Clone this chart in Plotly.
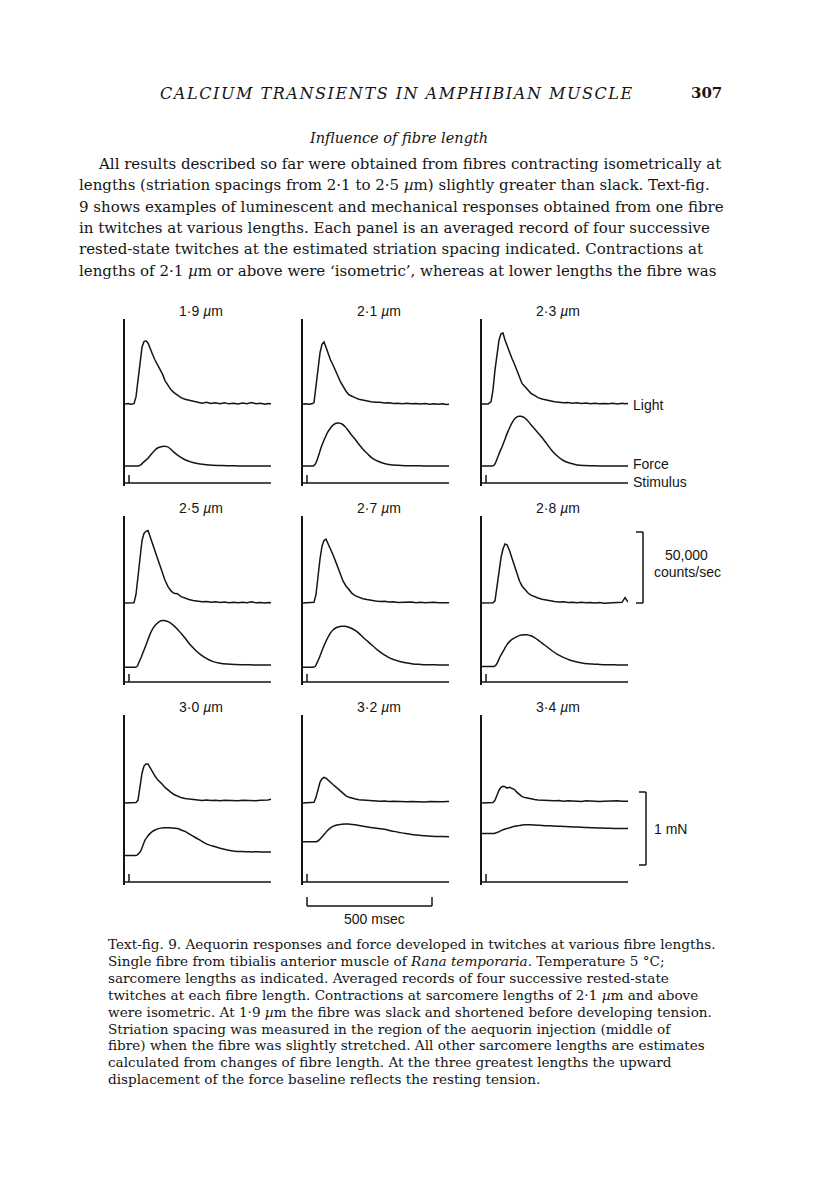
import plotly.graph_objects as go

W, H = 816, 1183

# sarcomere lengths (um), one panel each, row by row
LENGTHS = ["1·9", "2·1", "2·3", "2·5", "2·7", "2·8", "3·0", "3·2", "3·4"]

# time grid of the light records (msec after start of sweep)
T_LIGHT = [0, 12, 24, 36, 44, 52, 60, 68, 76, 84, 92, 100, 110, 120, 130, 140, 150, 160, 172, 184,
           196, 210, 224, 240, 256, 272, 290, 308, 326, 344, 362, 380, 398, 416, 434, 452, 470, 488,
           506, 524, 542, 560, 572, 584]

# aequorin light (thousand counts/sec above resting glow)
LIGHT_19 = [0, 0.3, -0.2, 0.2, 5, 18, 31, 40, 44, 44.5, 43, 39, 35, 31, 28, 25, 21, 16.5, 13, 10,
            8, 6, 4.5, 3.3, 2.6, 1.8, 1.5, 0.6, 1.2, 0.3, 0.9, 0.2, 0.8, 0.1, 0.6, 0, 0.7, 0.2,
            1.1, 0.2, 0.5, -0.1, 0.4, 0.2]
LIGHT_21 = [0, 0.2, -0.2, 0.1, 1, 12, 26, 36, 42, 43.7, 40, 35.5, 31, 27.5, 24, 19.5, 15.5, 12.5, 9, 6.5,
            5.3, 4.3, 3.4, 2.7, 2.2, 1.6, 1.2, 1.3, 0.7, 0.9, 0.4, 0.6, 0.2, 0.5, 0.1, 0.4, 0, 0.3,
            -0.1, 0.2, -0.2, 0.1, -0.3, -0.2]
LIGHT_23 = [0, 0.2, 0, 1.5, 10, 24, 36, 45, 49.5, 50, 45, 41, 37, 32, 28, 24, 19, 14.5, 12, 9.5,
            7.5, 6, 4.5, 3.5, 2.8, 2, 1.6, 1.3, 0.8, 1, 0.5, 0.9, 0.4, 0.7, 0.2, 0.6, 0.1, 0.4,
            0.2, 0.6, 0, 0.5, 0.1, 0.3]
LIGHT_25 = [0, 0.2, -0.1, 0.2, 6, 20, 34, 44, 49, 50.5, 51, 47, 42, 37, 31, 25.5, 20.5, 16, 11.5, 8.5,
            6.8, 6.5, 4.5, 3.3, 2.5, 1.8, 1.4, 0.9, 1.1, 0.5, 0.8, 0.3, 0.7, 0.2, 0.6, 0.1, 0.5, 0.2,
            0.8, 0.1, 0.4, 0, 0.3, 0.2]
LIGHT_27 = [0, 0.2, -0.1, 0.1, 0.5, 6, 19, 31, 40, 44, 45, 42, 38, 34, 29.5, 24.5, 19.5, 15.5, 12, 9,
            6.8, 5, 3.8, 3, 2.4, 1.8, 1.4, 1, 1.2, 0.7, 0.9, 0.4, 0.6, 0.3, 0.7, 0.2, 0.5, 0.1,
            0.4, 0.6, 0.2, 0.4, 0.1, 0.2]
LIGHT_28 = [0, 0.1, -0.1, 0.1, 0.2, 1.5, 11, 23, 32, 38, 41.5, 41, 37, 31.5, 26, 21, 15.5, 12, 9.5, 7,
            5.5, 4.3, 3.5, 2.6, 2, 1.4, 1.1, 0.7, 0.9, 0.4, 0.6, 0.2, 0.5, 0.1, 0.4, 0, 0.3, -0.1,
            0.2, 0, 0.3, 0.5, 3.8, 0.6]
LIGHT_30 = [0, 0.1, -0.1, 0.1, 0.3, 2, 12, 21, 26, 27.5, 27.5, 25, 21.5, 19, 16.5, 15, 13, 11, 9, 7.5,
            6, 4.8, 3.8, 3.2, 2.8, 2.4, 2.2, 1.8, 2.1, 1.7, 2, 1.6, 2, 1.7, 1.9, 1.6, 2, 1.7,
            1.9, 1.6, 2, 1.8, 2.2, 2.6]
LIGHT_32 = [0, 0.1, -0.1, 0.1, 0.5, 4, 10, 14.5, 17, 18, 17.5, 16, 14.5, 13, 11.5, 10, 8, 6.5, 5, 4,
            3.3, 2.8, 2.3, 2, 1.8, 1.5, 1.4, 1.2, 1.4, 1, 1.2, 0.9, 1.1, 0.8, 1.1, 0.8, 1, 0.7,
            1, 0.8, 1.1, 0.8, 1, 1]
LIGHT_34 = [0, 0.1, -0.1, 0.1, 0.3, 2, 5.5, 9, 11, 11.8, 11.5, 10.5, 11, 10.5, 9.5, 7.5, 6, 4.5, 3.8, 3.3,
            2.8, 2.4, 2.2, 1.9, 2, 1.6, 1.5, 1.7, 1.3, 1.5, 1.2, 1.4, 1.1, 1.5, 1.2, 1.4, 1.1, 1.3,
            1.5, 1.2, 1.6, 1.3, 1.2, 1.2]
LIGHT = [LIGHT_19, LIGHT_21, LIGHT_23, LIGHT_25, LIGHT_27, LIGHT_28, LIGHT_30, LIGHT_32, LIGHT_34]

# time grid of the force records (msec)
T_FORCE = [0, 20, 32, 40, 48, 56, 64, 72, 80, 90, 100, 110, 120, 132, 144, 156, 168, 180, 195, 210,
           225, 240, 260, 280, 300, 325, 350, 380, 410, 440, 470, 500, 530, 560, 584]

# force (mN), including resting tension
FORCE_19 = [0, 0, 0, 0, 0, 0.003, 0.02, 0.045, 0.07, 0.1, 0.14, 0.18, 0.22, 0.25, 0.265, 0.27, 0.265,
            0.24, 0.19, 0.15, 0.115, 0.085, 0.06, 0.04, 0.027, 0.017, 0.01, 0.006, 0.003, 0.002,
            0.001, 0, 0, 0, 0]
FORCE_21 = [0, 0, 0, 0, 0.02, 0.08, 0.16, 0.25, 0.32, 0.4, 0.47, 0.52, 0.56, 0.585, 0.59, 0.575, 0.54,
            0.49, 0.42, 0.36, 0.29, 0.23, 0.16, 0.1, 0.065, 0.035, 0.018, 0.01, 0.005, 0.003, 0.002,
            0, 0, 0, 0]
FORCE_23 = [0, 0, 0, 0, 0.01, 0.06, 0.13, 0.2, 0.26, 0.35, 0.44, 0.52, 0.59, 0.65, 0.68, 0.68, 0.665,
            0.63, 0.57, 0.51, 0.45, 0.39, 0.3, 0.21, 0.14, 0.075, 0.04, 0.015, 0.006, 0.003, 0, 0,
            0, 0, 0]
FORCE_25 = [-0.03, -0.03, -0.03, -0.03, -0.02, 0.04, 0.1, 0.17, 0.24, 0.33, 0.42, 0.49, 0.54, 0.58,
            0.605, 0.61, 0.6, 0.58, 0.54, 0.49, 0.43, 0.37, 0.28, 0.21, 0.15, 0.09, 0.05, 0.025,
            0.013, 0.007, 0.004, 0.002, 0, 0, 0]
FORCE_27 = [-0.03, -0.03, -0.03, -0.03, -0.02, 0.03, 0.09, 0.16, 0.23, 0.31, 0.38, 0.44, 0.48, 0.51,
            0.525, 0.53, 0.53, 0.52, 0.5, 0.47, 0.43, 0.38, 0.32, 0.26, 0.2, 0.14, 0.09, 0.055, 0.03,
            0.015, 0.008, 0.004, 0.002, 0, 0]
FORCE_28 = [-0.02, -0.02, -0.02, -0.02, -0.02, 0, 0.05, 0.11, 0.16, 0.22, 0.28, 0.32, 0.35, 0.375,
            0.395, 0.41, 0.415, 0.415, 0.4, 0.375, 0.34, 0.3, 0.25, 0.195, 0.15, 0.105, 0.068, 0.04,
            0.022, 0.013, 0.008, 0.004, 0.002, 0, 0]
FORCE_30 = [0.13, 0.13, 0.13, 0.13, 0.135, 0.16, 0.2, 0.27, 0.34, 0.39, 0.43, 0.46, 0.48, 0.495, 0.505,
            0.51, 0.51, 0.51, 0.505, 0.5, 0.48, 0.46, 0.42, 0.38, 0.34, 0.29, 0.26, 0.23, 0.205, 0.19,
            0.185, 0.18, 0.18, 0.178, 0.178]
FORCE_32 = [0.32, 0.32, 0.32, 0.32, 0.32, 0.322, 0.34, 0.37, 0.4, 0.44, 0.48, 0.51, 0.53, 0.545, 0.553,
            0.558, 0.56, 0.56, 0.555, 0.55, 0.54, 0.53, 0.52, 0.51, 0.5, 0.49, 0.47, 0.45, 0.43,
            0.415, 0.405, 0.397, 0.392, 0.39, 0.388]
FORCE_34 = [0.43, 0.43, 0.43, 0.43, 0.432, 0.44, 0.45, 0.465, 0.478, 0.49, 0.5, 0.51, 0.52, 0.53, 0.538,
            0.545, 0.55, 0.55, 0.55, 0.548, 0.545, 0.542, 0.538, 0.535, 0.532, 0.528, 0.524, 0.52,
            0.515, 0.51, 0.506, 0.503, 0.5, 0.5, 0.5]
FORCE = [FORCE_19, FORCE_21, FORCE_23, FORCE_25, FORCE_27, FORCE_28, FORCE_30, FORCE_32, FORCE_34]

# stimulus marker
STIM_T = [0, 16, 16, 16, 584]
STIM_V = [0, 0, 1, 0, 0]

# page layout (pixels)
COL_X = [117, 295, 474]
PANEL_W = 146
T_MAX = 584
ROW_TOP = [311, 508, 707]
ROW_STIM = [475, 674, 874]
PX_MN = 73.0          # 1 mN
PX_KC = 71.0 / 50     # 1000 counts/sec
F0 = 17               # force zero above stimulus line
L0 = 79               # light baseline above stimulus line
PAD = 3
INK = "#151515"

fig = go.Figure()

for k in range(9):
    r, c = divmod(k, 3)
    ax = "" if k == 0 else str(k + 1)
    x0 = COL_X[c]
    top, stim = ROW_TOP[r], ROW_STIM[r]
    fig.add_trace(go.Scatter(x=T_LIGHT, y=[(L0 - F0 + v * PX_KC) / PX_MN for v in LIGHT[k]],
                             xaxis="x" + ax, yaxis="y" + ax, mode="lines",
                             line=dict(color=INK, width=1.5), showlegend=False))
    fig.add_trace(go.Scatter(x=T_FORCE, y=FORCE[k], xaxis="x" + ax, yaxis="y" + ax, mode="lines",
                             line=dict(color=INK, width=1.5, shape="spline"), showlegend=False))
    fig.add_trace(go.Scatter(x=STIM_T, y=[(-F0 + v * 8) / PX_MN for v in STIM_V],
                             xaxis="x" + ax, yaxis="y" + ax, mode="lines",
                             line=dict(color=INK, width=1.5), showlegend=False))
    fig.layout["xaxis" + ax] = dict(domain=[x0 / W, (x0 + PANEL_W) / W], range=[0, T_MAX],
                                    visible=False, anchor="y" + ax)
    fig.layout["yaxis" + ax] = dict(domain=[1 - (stim + PAD) / H, 1 - top / H],
                                    range=[-(F0 + PAD) / PX_MN, (stim - top - F0) / PX_MN],
                                    showline=True, linecolor=INK, linewidth=1.5, showticklabels=False,
                                    ticks="", showgrid=False, zeroline=False, anchor="x" + ax)

ann = []


def txt(s, x, y, size, family, anchor="left", color=INK):
    ann.append(dict(text=s, x=x / W, y=1 - y / H, xref="paper", yref="paper", xanchor=anchor,
                    yanchor="middle", showarrow=False, font=dict(size=size, family=family, color=color)))


SANS = "Liberation Sans, Arial, sans-serif"
SERIF = "DejaVu Serif, serif"

# panel titles
for k in range(9):
    r, c = divmod(k, 3)
    txt(LENGTHS[k] + " <i>µ</i>m", COL_X[c] + 76, ROW_TOP[r] - 8, 14, SANS, "center")

txt("Light", 623, 397, 14, SANS)
txt("Force", 623, 456, 14, SANS)
txt("Stimulus", 623, 474, 14, SANS)
txt("50,000", 678, 547, 14, SANS, "center")
txt("counts/sec", 679, 564, 14, SANS, "center")
txt("1 mN", 662, 821, 14, SANS, "center")
txt("500 msec", 366, 911, 14, SANS, "center")

# scale bars
shapes = []
lb = (L0 - F0) / PX_MN
lt = lb + 50 * PX_KC / PX_MN
for y in (lb, lt):
    shapes.append(dict(type="line", xref="paper", yref="y6", x0=628 / W, x1=635 / W, y0=y, y1=y,
                       line=dict(color=INK, width=1.5)))
shapes.append(dict(type="line", xref="paper", yref="y6", x0=635 / W, x1=635 / W, y0=lb, y1=lt,
                   line=dict(color=INK, width=1.5)))
for y in (0, 1):
    shapes.append(dict(type="line", xref="paper", yref="y9", x0=631 / W, x1=638 / W, y0=y, y1=y,
                       line=dict(color=INK, width=1.5)))
shapes.append(dict(type="line", xref="paper", yref="y9", x0=638 / W, x1=638 / W, y0=0, y1=1,
                   line=dict(color=INK, width=1.5)))
shapes.append(dict(type="line", xref="x8", yref="paper", x0=16, x1=516, y0=1 - 898 / H, y1=1 - 898 / H,
                   line=dict(color=INK, width=1.5)))
for t in (16, 516):
    shapes.append(dict(type="line", xref="x8", yref="paper", x0=t, x1=t, y0=1 - 898 / H, y1=1 - 889 / H,
                       line=dict(color=INK, width=1.5)))

# running head and text
head = "\u2002".join("\u200a".join(w) for w in "CALCIUM TRANSIENTS IN AMPHIBIAN MUSCLE".split())
txt("<i>" + head + "</i>", 388, 85, 16, SERIF, "center")
txt("<b>307</b>", 716, 85, 15, SERIF, "right")
txt("<i>Influence of fibre length</i>", 390, 130, 14.5, SERIF, "center")

BODY = [
    "All results described so far were obtained from fibres contracting isometrically at",
    "lengths (striation spacings from 2·1 to 2·5 <i>µ</i>m) slightly greater than slack. Text-fig.",
    "9 shows examples of luminescent and mechanical responses obtained from one fibre",
    "in twitches at various lengths. Each panel is an averaged record of four successive",
    "rested-state twitches at the estimated striation spacing indicated. Contractions at",
    "lengths of 2·1 <i>µ</i>m or above were ‘isometric’, whereas at lower lengths the fibre was",
]
for i, line in enumerate(BODY):
    txt(line, 88 if i == 0 else 69, 156 + 21.3 * i, 15, SERIF)

CAPTION = [
    "Text-fig. 9. Aequorin responses and force developed in twitches at various fibre lengths.",
    "Single fibre from tibialis anterior muscle of <i>Rana temporaria</i>. Temperature 5 °C;",
    "sarcomere lengths as indicated. Averaged records of four successive rested-state",
    "twitches at each fibre length. Contractions at sarcomere lengths of 2·1 <i>µ</i>m and above",
    "were isometric. At 1·9 <i>µ</i>m the fibre was slack and shortened before developing tension.",
    "Striation spacing was measured in the region of the aequorin injection (middle of",
    "fibre) when the fibre was slightly stretched. All other sarcomere lengths are estimates",
    "calculated from changes of fibre length. At the three greatest lengths the upward",
    "displacement of the force baseline reflects the resting tension.",
]
for i, line in enumerate(CAPTION):
    txt(line, 98, 936 + 16.9 * i, 13.6, SERIF)

fig.update_layout(width=W, height=H, margin=dict(l=0, r=0, t=0, b=0), paper_bgcolor="white",
                  plot_bgcolor="rgba(0,0,0,0)", annotations=ann, shapes=shapes, showlegend=False)

fig.write_html("out.html")
